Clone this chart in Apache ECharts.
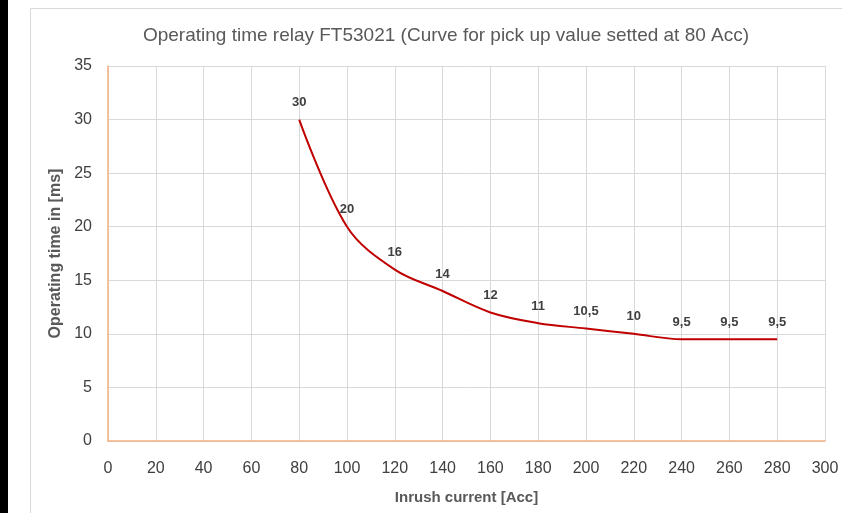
<!DOCTYPE html>
<html>
<head>
<meta charset="utf-8">
<script src="https://cdn.jsdelivr.net/npm/echarts@6/dist/echarts.min.js"></script>
<style>
  html,body{margin:0;padding:0;background:#fff;}
  #chart{width:842px;height:513px;}
</style>
</head>
<body>
<div id="chart"></div>
<script>
  // 数据 - 电流(Acc) 与 动作时间(ms)
  const current = [80, 100, 120, 140, 160, 180, 200, 220, 240, 260, 280]
  const timeMs = [30, 20, 16, 14, 12, 11, 10.5, 10, 9.5, 9.5, 9.5]
  const xRange = [0, 300, 20]
  const yRange = [0, 35, 5]

  const font = "'Liberation Sans', sans-serif"

  let points = []
  for (let i = 0; i < current.length; i++) {
    points.push([current[i], timeMs[i]])
  }

  let myChart = echarts.init(document.getElementById('chart'), null, {renderer: 'canvas'})

  let option = {
    animation: false,
    title: {
      text: 'Operating time relay FT53021 (Curve for pick up value setted at 80 Acc)',
      left: 441,
      textAlign: 'center',
      top: 21,
      textStyle: {fontFamily: font, fontSize: 19, fontWeight: 'normal', color: '#595959'}
    },
    graphic: {
      elements: [
        {type: 'rect', shape: {x: 0, y: 0, width: 8, height: 513}, style: {fill: '#000'}},
        {type: 'rect', shape: {x: 30.5, y: 8.5, width: 820, height: 520}, style: {fill: 'none', stroke: '#d9d9d9', lineWidth: 1}}
      ]
    },
    grid: {left: 108, right: 17, top: 66, bottom: 72},
    xAxis: {
      type: 'value',
      min: xRange[0], max: xRange[1], interval: xRange[2],
      name: 'Inrush current [Acc]',
      nameLocation: 'middle',
      nameGap: 49,
      nameTextStyle: {fontFamily: font, fontSize: 15, fontWeight: 'bold', color: '#595959'},
      axisLine: {show: true, lineStyle: {color: '#f4b183', width: 1.5}},
      axisTick: {show: false},
      axisLabel: {fontFamily: font, fontSize: 16, color: '#404040', margin: 20},
      splitLine: {show: true, lineStyle: {color: '#d9d9d9'}}
    },
    yAxis: {
      type: 'value',
      min: yRange[0], max: yRange[1], interval: yRange[2],
      name: 'Operating time in [ms]',
      nameLocation: 'middle',
      nameGap: 43,
      nameTextStyle: {fontFamily: font, fontSize: 16, fontWeight: 'bold', color: '#595959'},
      axisLine: {show: true, lineStyle: {color: '#f4b183', width: 1.5}},
      axisTick: {show: false},
      axisLabel: {fontFamily: font, fontSize: 16, color: '#404040', margin: 16},
      splitLine: {show: true, lineStyle: {color: '#d9d9d9'}}
    },
    series: [
      {
        type: 'line',
        data: points,
        smooth: 0.35,
        showSymbol: true,
        symbol: 'circle',
        symbolSize: 1,
        itemStyle: {color: 'rgba(0,0,0,0)'},
        lineStyle: {color: '#c00000', width: 2},
        label: {
          show: true,
          position: 'top',
          distance: 10,
          fontFamily: font,
          fontSize: 13,
          fontWeight: 'bold',
          color: '#404040',
          // 小数点用逗号
          formatter: (p) => String(p.value[1]).replace('.', ',')
        }
      }
    ]
  }
  myChart.setOption(option)
</script>
</body>
</html>
